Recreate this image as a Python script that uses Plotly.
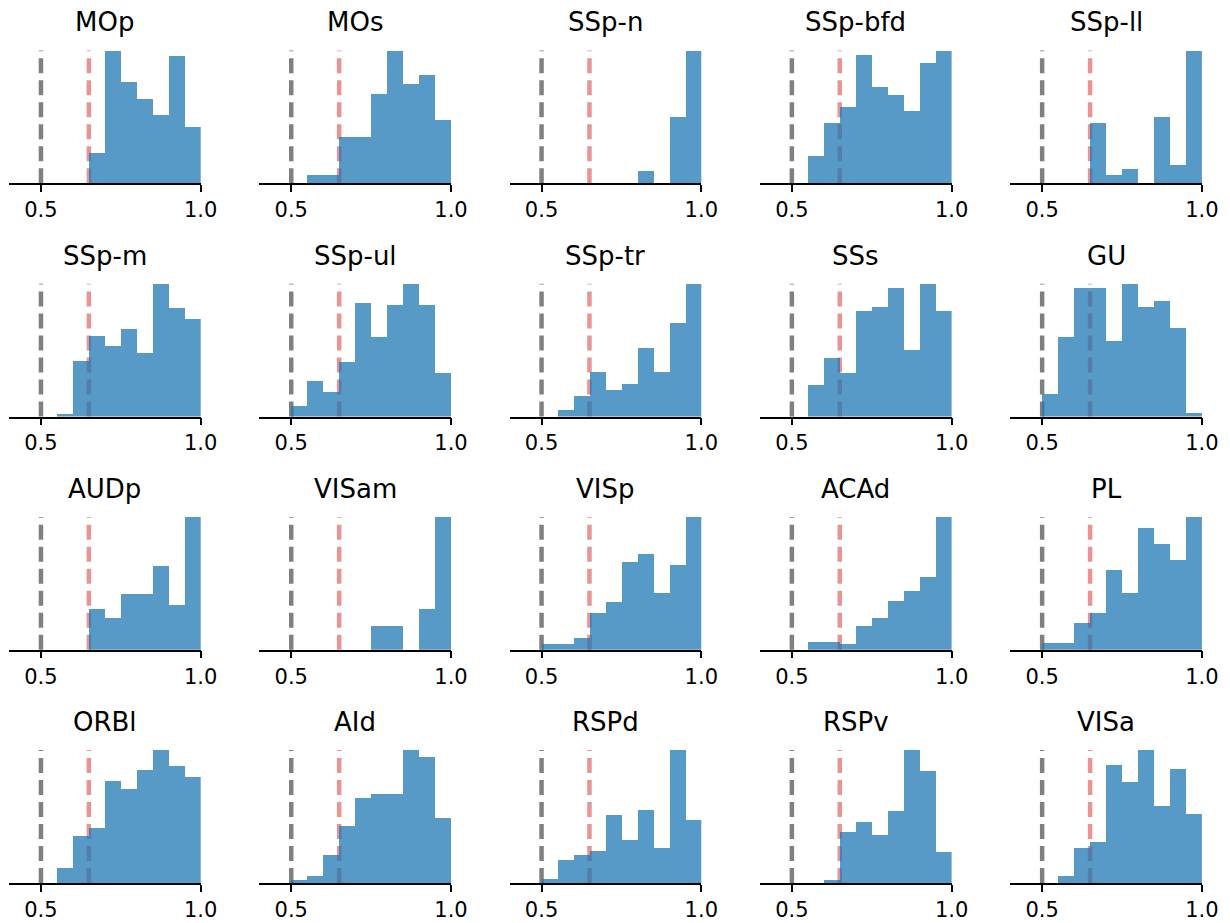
import plotly.graph_objects as go

# ---- data (relative bar heights of each histogram, bins of width 0.05 starting at 0.50) ----
bin_left = [0.50, 0.55, 0.60, 0.65, 0.70, 0.75, 0.80, 0.85, 0.90, 0.95]
bin_width = 0.05

MOp = [0, 0, 0, 23, 100, 77, 64, 52, 96, 43]
MOs = [0, 7, 7, 35, 35, 68, 100, 75, 82, 48]
SSp_n = [0, 0, 0, 0, 0, 0, 10, 0, 50, 100]
SSp_bfd = [0, 21, 46, 58, 97, 73, 67, 55, 91, 100]
SSp_ll = [0, 0, 0, 46, 7, 11, 0, 50, 14, 100]
SSp_m = [0, 2, 42, 61, 53, 66, 48, 100, 82, 74]
SSp_ul = [8, 27, 19, 41, 86, 60, 84, 100, 84, 33]
SSp_tr = [0, 5, 16, 34, 20, 25, 52, 34, 71, 100]
SSs = [0, 24, 44, 33, 80, 83, 97, 50, 100, 80]
GU = [17, 60, 97, 97, 57, 100, 83, 87, 67, 3]
AUDp = [0, 0, 0, 31, 24, 42, 42, 63, 34, 100]
VISam = [0, 0, 0, 0, 0, 18, 18, 0, 31, 100]
VISp = [4, 4, 9, 28, 36, 66, 72, 43, 64, 100]
ACAd = [0, 6, 6, 4, 18, 24, 37, 44, 55, 100]
PL = [5, 5, 20, 28, 60, 43, 92, 80, 68, 100]
ORBl = [0, 11, 35, 41, 77, 71, 85, 100, 88, 80]
AId = [2, 5, 21, 43, 64, 67, 67, 100, 95, 49]
RSPd = [3, 17, 21, 24, 51, 32, 55, 26, 100, 47]
RSPv = [0, 0, 2, 38, 46, 36, 54, 100, 84, 23]
VISa = [0, 5, 26, 31, 89, 76, 100, 58, 86, 52]

titles = ["MOp", "MOs", "SSp-n", "SSp-bfd", "SSp-ll",
          "SSp-m", "SSp-ul", "SSp-tr", "SSs", "GU",
          "AUDp", "VISam", "VISp", "ACAd", "PL",
          "ORBl", "AId", "RSPd", "RSPv", "VISa"]
series = [MOp, MOs, SSp_n, SSp_bfd, SSp_ll,
          SSp_m, SSp_ul, SSp_tr, SSs, GU,
          AUDp, VISam, VISp, ACAd, PL,
          ORBl, AId, RSPd, RSPv, VISa]

chance_level = 0.5
threshold = 0.65
x_range = [0.4, 1.0]
x_ticks = [0.5, 1.0]
x_ticklabels = ["0.5", "1.0"]

# ---- layout geometry (pixels) ----
W, H = 1230, 923
n_cols, n_rows = 5, 4
col_left0, col_step, panel_w = 9.0, 250.3, 191.7
row_top0, row_step, panel_h = 50.5, 233.2, 132.8

FONT = "DejaVu Sans"
BAR_COLOR = "rgba(31,119,180,0.75)"

fig = go.Figure()
layout_axes = {}
shapes = []
annotations = []

for k, (title, vals) in enumerate(zip(titles, series)):
    r, c = divmod(k, n_cols)
    idx = "" if k == 0 else str(k + 1)
    xa, ya = "x" + idx, "y" + idx
    left = col_left0 + c * col_step
    top = row_top0 + r * row_step
    x_dom = [left / W, (left + panel_w) / W]
    y_dom = [1 - (top + panel_h) / H, 1 - top / H]

    fig.add_trace(go.Bar(
        x=bin_left, y=vals, width=bin_width, offset=0,
        marker=dict(color=BAR_COLOR, line=dict(width=0)),
        xaxis=xa, yaxis=ya, showlegend=False, hoverinfo="skip",
    ))

    layout_axes["xaxis" + idx] = dict(
        domain=x_dom, range=x_range, anchor=ya, automargin=False,
        tickvals=x_ticks, ticktext=x_ticklabels,
        ticks="outside", ticklen=7, tickwidth=1.5, tickcolor="black",
        showline=True, linecolor="black", linewidth=1.5,
        showgrid=False, zeroline=False,
        tickfont=dict(family=FONT, size=21, color="black"),
        fixedrange=True,
    )
    layout_axes["yaxis" + idx] = dict(
        domain=y_dom, range=[0, max(vals)], anchor=xa, automargin=False,
        visible=False, showgrid=False, zeroline=False, fixedrange=True,
    )

    for xv, col in ((chance_level, "rgb(128,128,128)"), (threshold, "rgba(214,39,40,0.5)")):
        shapes.append(dict(
            type="line", xref=xa, yref=ya + " domain",
            x0=xv, x1=xv, y0=0, y1=1, layer="below",
            line=dict(color=col, width=4.5, dash="15px,7px"),
        ))

    annotations.append(dict(
        text=title, xref="paper", yref="paper",
        x=(left + panel_w / 2) / W, y=1 - (top - 28) / H,
        xanchor="center", yanchor="middle", showarrow=False,
        font=dict(family=FONT, size=26, color="black"),
    ))

fig.update_layout(
    template="none",
    width=W, height=H, autosize=False,
    margin=dict(l=0, r=0, t=0, b=0, autoexpand=False),
    paper_bgcolor="white", plot_bgcolor="white",
    bargap=0, barmode="overlay",
    shapes=shapes, annotations=annotations,
    showlegend=False,
    **layout_axes,
)

fig.write_html(
    "out.html",
    config={"displayModeBar": False, "responsive": False},
    post_script="document.body.style.margin='0';document.body.style.overflow='hidden';"
                "document.documentElement.style.overflow='hidden';",
)
